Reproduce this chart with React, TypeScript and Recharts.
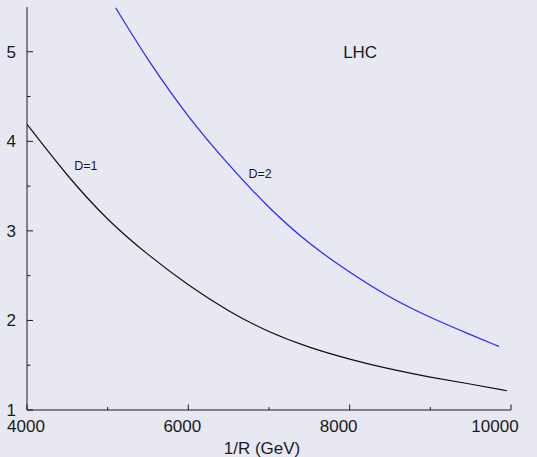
import React from 'react';
import { LineChart, Line, XAxis, YAxis, ReferenceDot } from 'recharts';

// D=1 curve (black)
const d1X = [4000, 4500, 5000, 5500, 6000, 6500, 7000, 7500, 8000, 8500, 9000, 9500, 9950];
const d1Y = [4.19, 3.61, 3.115, 2.73, 2.39, 2.1, 1.865, 1.695, 1.565, 1.455, 1.365, 1.29, 1.215];

// D=2 curve (blue)
const d2X = [5100, 5500, 6000, 6500, 7000, 7500, 8000, 8500, 9000, 9500, 9850];
const d2Y = [5.49, 4.9, 4.265, 3.735, 3.25, 2.85, 2.535, 2.25, 2.03, 1.84, 1.71];

const xTicks = [4000, 5000, 6000, 7000, 8000, 9000, 10000];
const xLabels = [4000, 6000, 8000, 10000];
const yTicks = [1, 1.5, 2, 2.5, 3, 3.5, 4, 4.5, 5];
const yLabels = [1, 2, 3, 4, 5];

const noteText = ['D=1', 'D=2', 'LHC'];
const noteX = [4730, 6890, 8130];
const noteY = [3.73, 3.645, 5.0];
const noteSize = [12.5, 12.5, 17];

const d1Data = d1X.map((x, i) => ({ x, y: d1Y[i] }));
const d2Data = d2X.map((x, i) => ({ x, y: d2Y[i] }));

const BG = '#e8e8f2';
const INK = '#1a1a1a';
const FONT = '"Liberation Sans", Arial, Helvetica, sans-serif';

const LeftTick = (props: any) => {
    const { x, y, payload } = props;
    const major = yLabels.includes(payload.value);
    return (
        <g>
            <line x1={x} y1={y} x2={x + (major ? 6 : 3.5)} y2={y} stroke={INK} />
            {major && (
                <text x={x - 11} y={y + 6} textAnchor="end" fontSize={17} fontFamily={FONT} fill={INK}>
                    {payload.value}
                </text>
            )}
        </g>
    );
};

const RightTick = (props: any) => {
    const { x, y, payload } = props;
    const major = yLabels.includes(payload.value);
    return <line x1={x} y1={y} x2={x - (major ? 6 : 3.5)} y2={y} stroke={INK} />;
};

const BottomTick = (props: any) => {
    const { x, y, payload } = props;
    const major = xLabels.includes(payload.value);
    // the original labels drift left a little as the value grows
    const dx = -1 - (payload.value - 4000) * 0.0025;
    return (
        <g>
            <line x1={x} y1={y} x2={x} y2={y - (major ? 5.5 : 3)} stroke={INK} />
            {major && (
                <text x={x + dx} y={y + 22} textAnchor="middle" fontSize={17} fontFamily={FONT} fill={INK}>
                    {payload.value}
                </text>
            )}
        </g>
    );
};

const TopTick = (props: any) => {
    const { x, y, payload } = props;
    const major = xLabels.includes(payload.value);
    return <line x1={x} y1={y} x2={x} y2={y + (major ? 5.5 : 3)} stroke={INK} />;
};

export default function App() {
    return (
        <div style={{ position: 'absolute', left: 0, top: 0, width: 537, height: 457, background: BG }}>
            <LineChart
                width={537}
                height={457}
                margin={{ top: 7, right: 26, left: 0, bottom: 0 }}
                style={{ fontFamily: FONT }}
            >
                <XAxis
                    xAxisId="b"
                    dataKey="x"
                    type="number"
                    domain={[4000, 10000]}
                    ticks={xTicks}
                    interval={0}
                    height={47}
                    tickSize={0}
                    tickMargin={0}
                    tickLine={false}
                    axisLine={{ stroke: INK }}
                    tick={<BottomTick />}
                    allowDataOverflow
                    label={{ value: '1/R (GeV)', position: 'insideBottom', offset: 3, dx: -7, fontSize: 17, fill: INK }}
                />
                <XAxis
                    xAxisId="t"
                    orientation="top"
                    type="number"
                    domain={[4000, 10000]}
                    ticks={xTicks}
                    interval={0}
                    height={0}
                    tickSize={0}
                    tickMargin={0}
                    tickLine={false}
                    axisLine={{ stroke: INK }}
                    tick={<TopTick />}
                    allowDataOverflow
                />
                <YAxis
                    yAxisId="l"
                    type="number"
                    domain={[1, 5.5]}
                    ticks={yTicks}
                    interval={0}
                    width={27}
                    tickSize={0}
                    tickMargin={0}
                    tickLine={false}
                    axisLine={{ stroke: INK }}
                    tick={<LeftTick />}
                    allowDataOverflow
                />
                <YAxis
                    yAxisId="r"
                    orientation="right"
                    type="number"
                    domain={[1, 5.5]}
                    ticks={yTicks}
                    interval={0}
                    width={0}
                    tickSize={0}
                    tickMargin={0}
                    tickLine={false}
                    axisLine={{ stroke: INK }}
                    tick={<RightTick />}
                    allowDataOverflow
                />
                <Line
                    xAxisId="b"
                    yAxisId="l"
                    data={d1Data}
                    dataKey="y"
                    type="basis"
                    stroke="#111111"
                    strokeWidth={1.2}
                    dot={false}
                    isAnimationActive={false}
                />
                <Line
                    xAxisId="b"
                    yAxisId="l"
                    data={d2Data}
                    dataKey="y"
                    type="basis"
                    stroke="#2626ff"
                    strokeWidth={1.2}
                    dot={false}
                    isAnimationActive={false}
                />
                {noteText.map((t, i) => (
                    <ReferenceDot
                        key={t}
                        xAxisId="b"
                        yAxisId="l"
                        x={noteX[i]}
                        y={noteY[i]}
                        r={0}
                        fill="none"
                        stroke="none"
                        label={{ value: t, position: 'center', fontSize: noteSize[i], fill: INK }}
                    />
                ))}
            </LineChart>
        </div>
    );
}
